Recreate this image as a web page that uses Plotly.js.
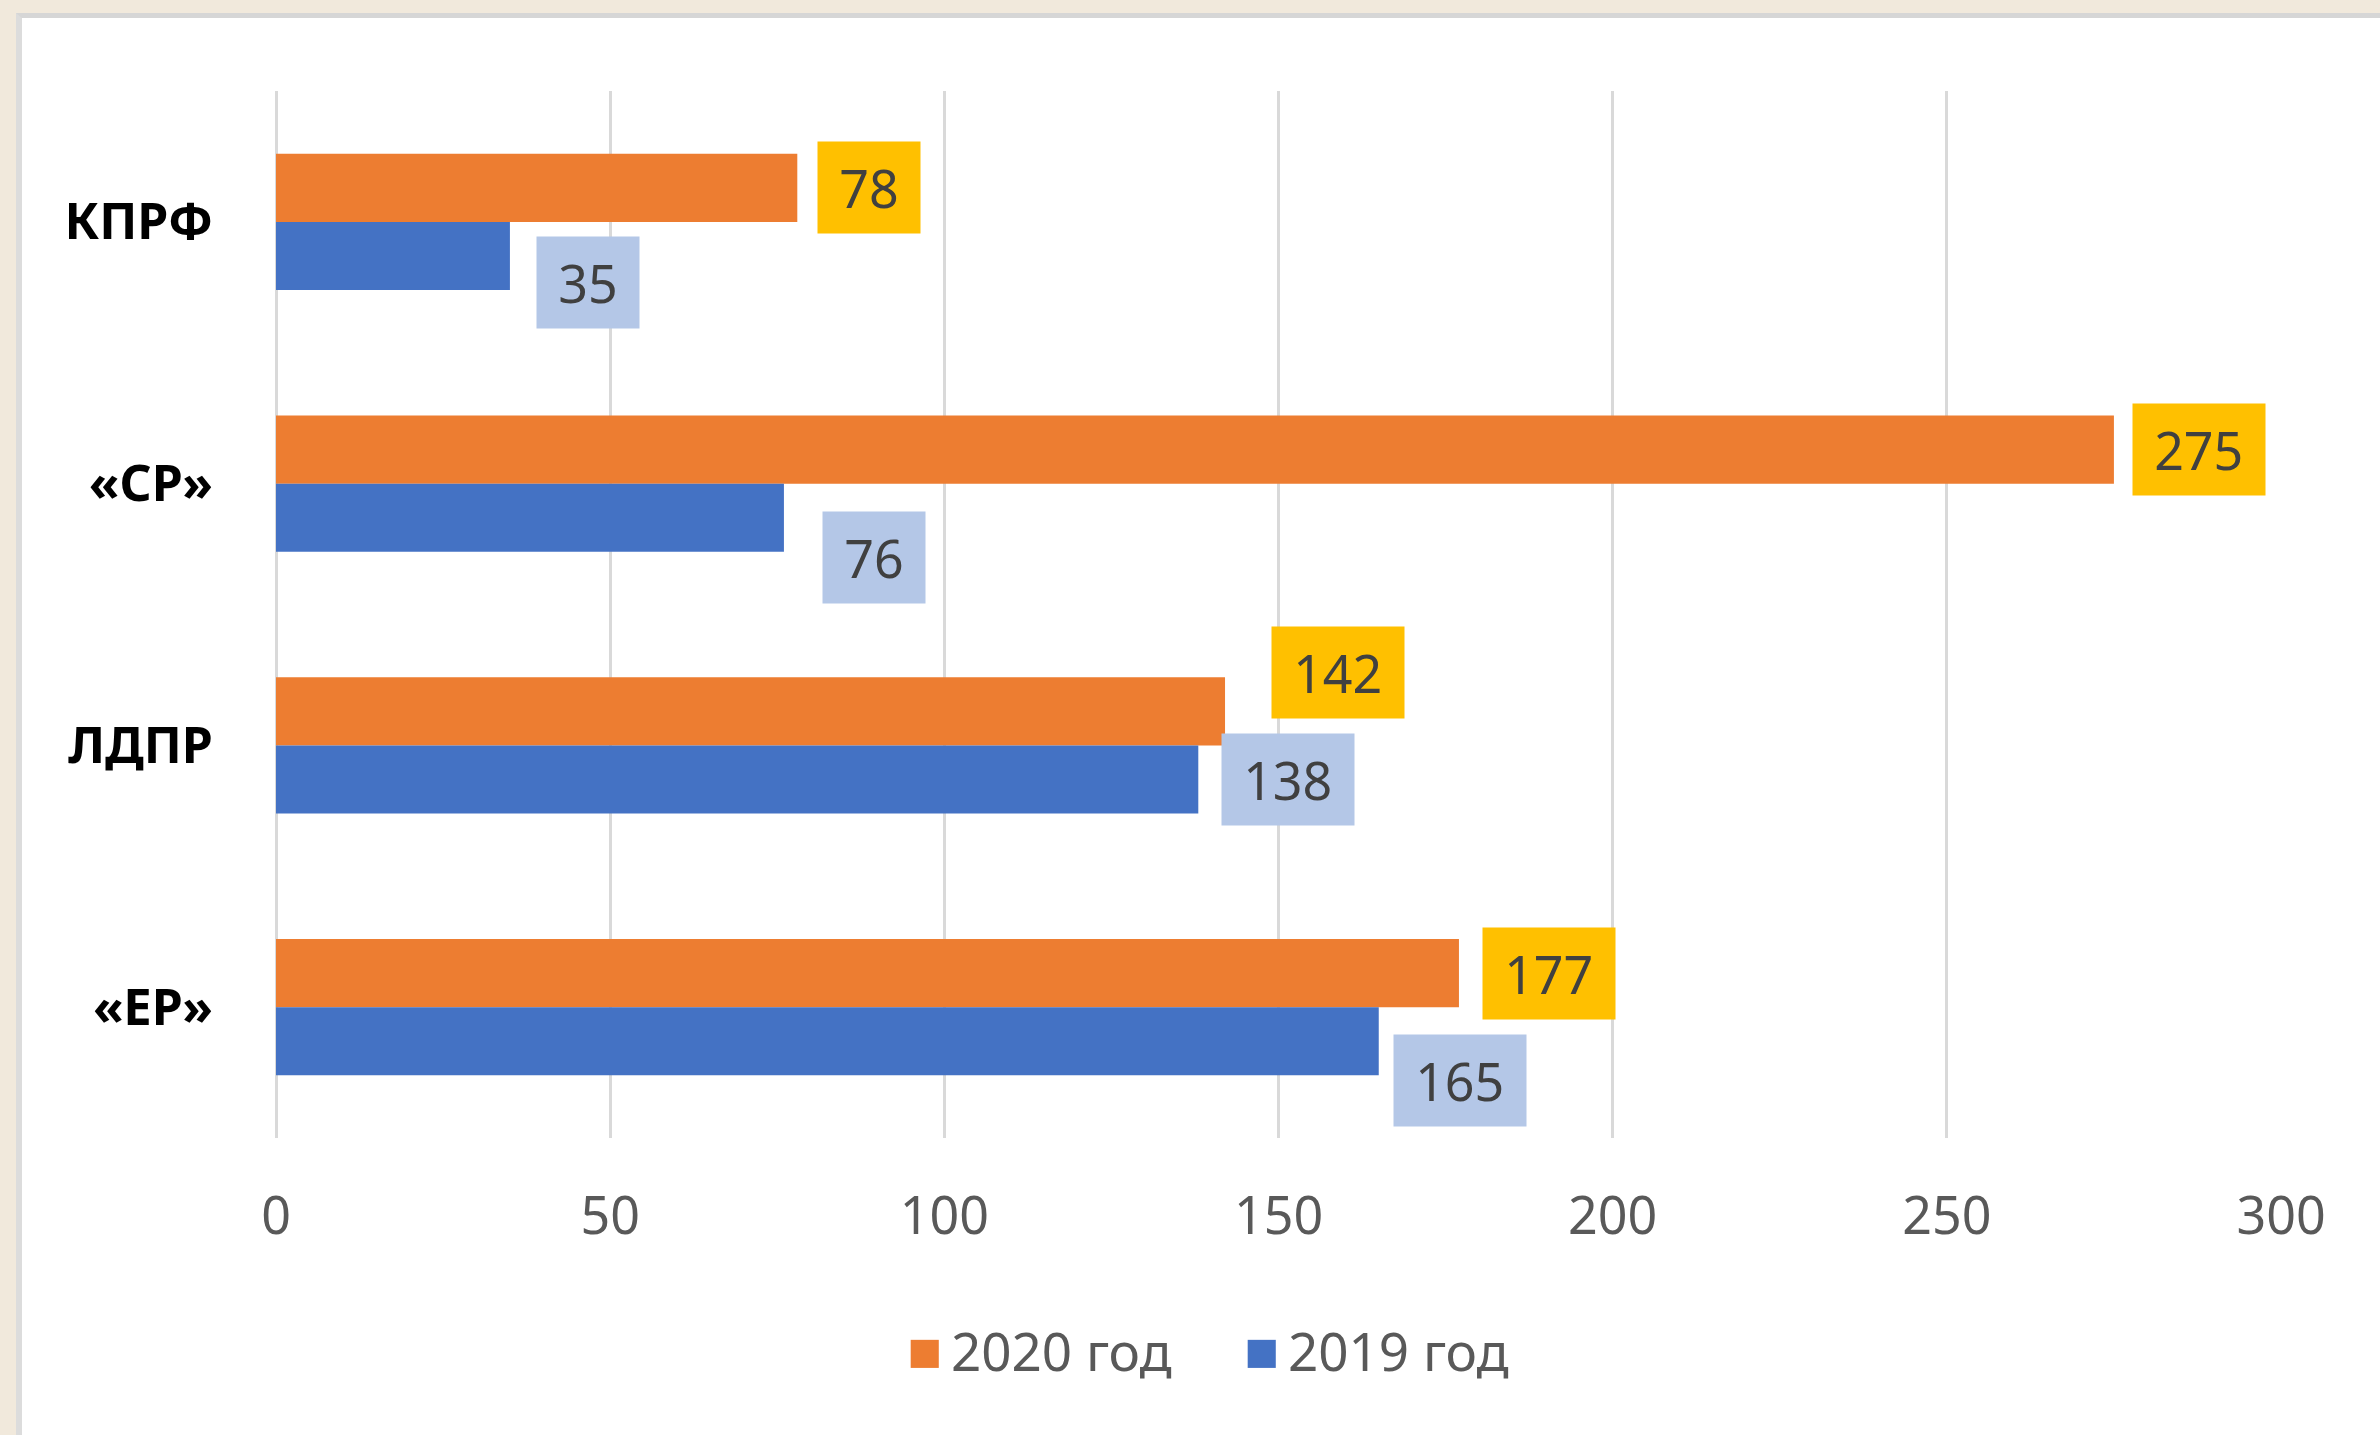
<!DOCTYPE html>
<html>
<head>
<meta charset="utf-8">
<script src="https://cdn.plot.ly/plotly-3.0.1.min.js"></script>
<style>
  html, body { margin: 0; padding: 0; width: 2380px; height: 1435px; background: #F1E9DC; overflow: hidden; }
  #frame { position: absolute; left: 16px; top: 13px; width: 2358px; height: 1417px;
           border-left: 6px solid #DCDCDC; border-top: 5px solid #D6D6D6; background: #FFFFFF; }
  #chart { width: 2358px; height: 1417px; }
</style>
</head>
<body>
<div id="frame"><div id="chart"></div></div>
<script>
// ---- data ----
const categories = ["КПРФ", "«СР»", "ЛДПР", "«ЕР»"];
const seriesNames = ["2020 год", "2019 год"];
const values2020 = [78, 275, 142, 177];
const values2019 = [35, 76, 138, 165];
const xTicks = [0, 50, 100, 150, 200, 250, 300];

// ---- styling ----
const barColors = ["#ED7D31", "#4472C4"];
const labelBg = ["#FFC000", "#B4C7E7"];
// per-label nudges (px) as laid out in the original
const labelDx2020 = [20, 18, 46, 23];
const labelDy2020 = [0, 0, 39, 0];
const labelDx2019 = [26, 38, 23, 14];
const labelDy2019 = [-27, -40, 0, -39];

const FONT = "Noto Sans, Open Sans, sans-serif";
const bargap = 0.48;
const halfBar = (1 - bargap) / 4;

const traces = [
  { type: "bar", orientation: "h", name: seriesNames[0], y: categories, x: values2020,
    marker: { color: barColors[0] }, showlegend: false, hoverinfo: "x+y" },
  { type: "bar", orientation: "h", name: seriesNames[1], y: categories, x: values2019,
    marker: { color: barColors[1] }, showlegend: false, hoverinfo: "x+y" }
];

const annotations = [];
function addLabels(vals, off, dx, dy, bg) {
  vals.forEach((v, i) => {
    const txt = String(v);
    annotations.push({
      x: v, y: i + off, xref: "x", yref: "y",
      text: txt, showarrow: false,
      xanchor: "left", yanchor: "middle",
      xshift: dx[i], yshift: dy[i],
      bgcolor: bg, borderpad: 0,
      width: txt.length * 29.5 + 43, height: 91,
      font: { family: FONT, size: 52, color: "#404040" }
    });
  });
}
addLabels(values2020, -halfBar, labelDx2020, labelDy2020, labelBg[0]);
addLabels(values2019, halfBar, labelDx2019, labelDy2019, labelBg[1]);

// legend drawn as text items
const legendX = [0.3137, 0.4818];
seriesNames.forEach((n, k) => {
  annotations.push({
    xref: "paper", yref: "paper", x: legendX[k], y: -0.2006,
    xanchor: "left", yanchor: "middle", showarrow: false,
    text: '<span style="color:' + barColors[k] + ';font-size:58px">■</span>' +
          '<span style="font-size:34px"> </span>' + n,
    font: { family: FONT, size: 53, color: "#595959" }
  });
});

const layout = {
  width: 2358, height: 1417,
  paper_bgcolor: "#FFFFFF", plot_bgcolor: "#FFFFFF",
  margin: { l: 254, r: 99, t: 73, b: 297 },
  barmode: "group", bargap: bargap, bargroupgap: 0,
  showlegend: false,
  font: { family: FONT },
  xaxis: {
    range: [0, 300], tickvals: xTicks, ticktext: xTicks.map(String),
    showgrid: true, gridcolor: "#D9D9D9", gridwidth: 3,
    zeroline: true, zerolinecolor: "#D9D9D9", zerolinewidth: 3,
    showline: false, ticks: "", ticklabelstandoff: 43,
    tickfont: { family: FONT, size: 52, color: "#595959" },
    fixedrange: true
  },
  yaxis: {
    type: "category", categoryorder: "array", categoryarray: categories,
    autorange: "reversed", showgrid: false, zeroline: false, showline: false,
    ticks: "", ticklabelstandoff: 62,
    tickfont: { family: FONT, size: 50, color: "#000000", weight: "bold" },
    fixedrange: true
  },
  annotations: annotations
};

Plotly.newPlot("chart", traces, layout, { displayModeBar: false, staticPlot: true });
</script>
</body>
</html>
